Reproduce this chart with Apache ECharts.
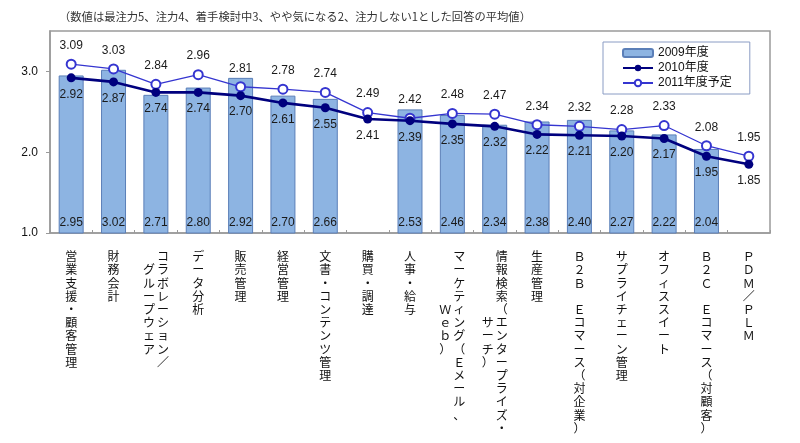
<!DOCTYPE html>
<html><head><meta charset="utf-8">
<script src="https://cdn.jsdelivr.net/npm/echarts@6/dist/echarts.min.js"></script>
<style>html,body{margin:0;padding:0;background:#fff}#c{width:800px;height:443px}</style>
</head><body><div id="c"></div>
<script>
const titleText = '（数値は最注力5、注力4、着手検討中3、やや気になる2、注力しない1とした回答の平均値）';
const categories = [
  '営業支援・顧客管理', '財務会計', 'コラボレーション／\nグループウェア', 'データ分析', '販売管理', '経営管理',
  '文書・コンテンツ管理', '購買・調達', '人事・給与', 'マーケティング（Ｅメール、\nＷｅｂ）',
  '情報検索（エンタープライズ・\nサーチ）', '生産管理', 'Ｂ２Ｂ　Ｅコマース（対企業）', 'サプライチェーン管理',
  'オフィススイート', 'Ｂ２Ｃ　Ｅコマース（対顧客）', 'ＰＤＭ／ＰＬＭ'
];
const names = ['2009年度', '2010年度', '2011年度予定'];
const v2009 = [2.95, 3.02, 2.71, 2.80, 2.92, 2.70, 2.66, null, 2.53, 2.46, 2.34, 2.38, 2.40, 2.27, 2.22, 2.04, null];
const v2010 = [2.92, 2.87, 2.74, 2.74, 2.70, 2.61, 2.55, 2.41, 2.39, 2.35, 2.32, 2.22, 2.21, 2.20, 2.17, 1.95, 1.85];
const v2011 = [3.09, 3.03, 2.84, 2.96, 2.81, 2.78, 2.74, 2.49, 2.42, 2.48, 2.47, 2.34, 2.32, 2.28, 2.33, 2.08, 1.95];

const FONT = '"Liberation Sans", Arial, "Noto Sans CJK JP", sans-serif';
const JFONT = '"Noto Sans CJK JP", sans-serif';

function vertical(s) {
  const cols = s.split('\n').map(c => Array.from(c));
  const n = Math.max(...cols.map(c => c.length));
  const padded = cols.map(a => {
    const off = Math.floor((n - a.length) / 2);
    return Array.from({length: n}, (_, i) => (i - off >= 0 && i - off < a.length) ? a[i - off] : '\u3000');
  });
  const lines = [];
  for (let i = 0; i < n; i++) {
    let line = '';
    for (let k = padded.length - 1; k >= 0; k--) line += '{c|' + padded[k][i] + '}';
    lines.push(line);
  }
  return lines.join('\n');
}

const chart = echarts.init(document.getElementById('c'));
chart.setOption({
  animation: false,
  backgroundColor: '#fff',
  title: {
    text: titleText, left: 54, top: 6,
    textStyle: {fontSize: 11.3, fontWeight: 'normal', color: '#333', fontFamily: JFONT}
  },
  legend: {
    data: names, orient: 'vertical', left: 603, top: 42, width: 148,
    padding: [5, 18, 5, 19], itemGap: 3, itemWidth: 30, itemHeight: 8,
    borderColor: '#8a9cc4', borderWidth: 1, backgroundColor: '#fff',
    textStyle: {fontSize: 12, color: '#111', fontFamily: FONT}
  },
  grid: {left: 50, right: 30, top: 31, bottom: 210, show: true, borderColor: '#9a9a9a', borderWidth: 1.5},
  xAxis: {
    type: 'category', data: categories,
    axisLine: {lineStyle: {color: '#9a9a9a', width: 1.5}},
    axisTick: {show: true, inside: true, length: 3, lineStyle: {color: '#9a9a9a'}},
    axisLabel: {
      interval: 0, margin: 17, formatter: vertical,
      rich: {c: {width: 14, align: 'center', fontSize: 12, lineHeight: 13.2, color: '#111', fontFamily: JFONT}}
    }
  },
  yAxis: {
    type: 'value', min: 1, max: 3.5, interval: 1,
    splitLine: {show: false},
    axisLine: {show: true, lineStyle: {color: '#9a9a9a', width: 1.5}},
    axisTick: {show: true, length: 4, lineStyle: {color: '#9a9a9a'}},
    axisLabel: {
      showMaxLabel: false, fontSize: 12, color: '#111', fontFamily: FONT, margin: 12,
      formatter: v => (Math.abs(v - Math.round(v)) < 1e-6 ? v.toFixed(1) : '')
    }
  },
  series: [
    {
      name: names[0], type: 'bar', data: v2009, barWidth: '59%',
      itemStyle: {color: '#8db4e2', borderColor: '#5b7fb8', borderWidth: 1},
      label: {show: true, position: 'insideBottom', distance: 5, fontSize: 12, color: '#1a1a1a', fontFamily: FONT,
        formatter: p => p.value == null ? '' : p.value.toFixed(2)},
      z: 2
    },
    {
      name: names[2], type: 'line', data: v2011,
      symbol: 'emptyCircle', symbolSize: 9,
      lineStyle: {color: '#3535d0', width: 1.3},
      itemStyle: {color: '#3535d0', borderWidth: 1.3},
      label: {show: true, position: 'top', distance: 7, fontSize: 12, color: '#1a1a1a', fontFamily: FONT,
        formatter: p => p.value.toFixed(2)},
      z: 3
    },
    {
      name: names[1], type: 'line', data: v2010,
      symbol: 'circle', symbolSize: 9,
      lineStyle: {color: '#00007e', width: 2.6},
      itemStyle: {color: '#00007e'},
      label: {show: true, position: 'bottom', distance: 6, fontSize: 12, color: '#1a1a1a', fontFamily: FONT,
        formatter: p => p.value.toFixed(2)},
      z: 4
    }
  ]
});
</script></body></html>
